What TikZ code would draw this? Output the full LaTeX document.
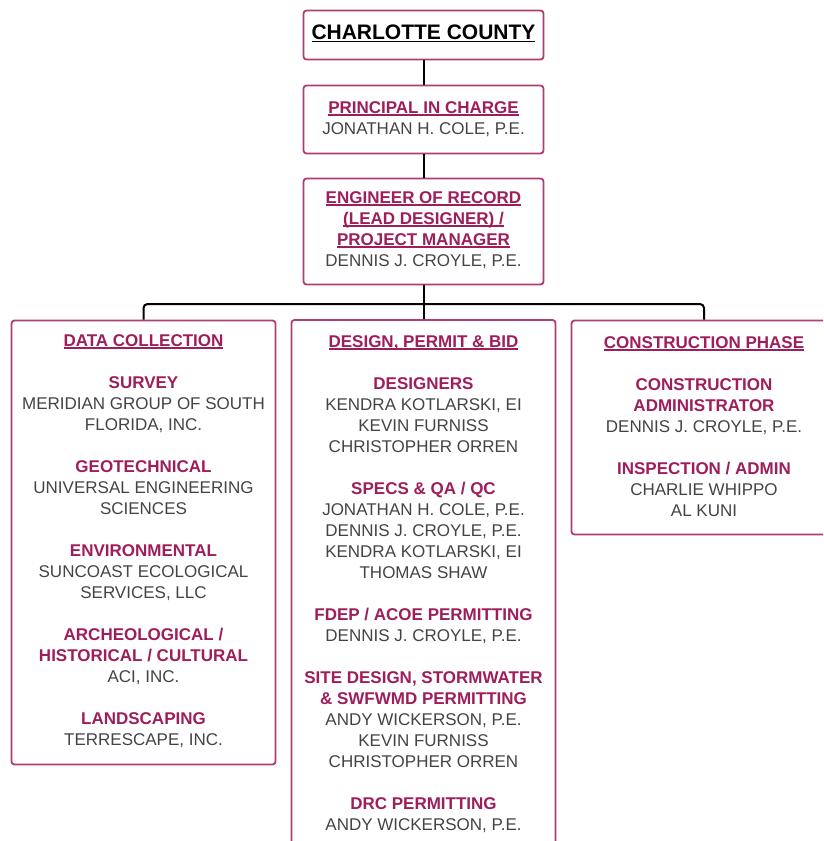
\documentclass[tikz,border=0pt]{standalone}
\usepackage{fontspec}
\setmainfont{Liberation Sans}
\definecolor{hdr}{RGB}{158,30,92}
\definecolor{bdr}{RGB}{172,62,118}
\definecolor{txt}{RGB}{68,68,68}
\newcommand\ulx[1]{\leavevmode\setbox0\hbox{#1}\rlap{\rule[-2.6pt]{\wd0}{1.3pt}}\box0}
\newcommand\hd[1]{{\bfseries\color{hdr}#1}}
\begin{document}
\begin{tikzpicture}[x=1pt,y=-1pt,
  box/.style={draw=bdr, line width=1.8pt, rounded corners=3pt, fill=white, inner sep=0pt},
  txtnode/.style={anchor=north, align=center, inner sep=0pt, font=\fontsize{17}{21}\selectfont, text=txt},
  conn/.style={line width=2pt, black, rounded corners=4pt}]
\clip (0,0) rectangle (823,841);
\fill[white] (0,0) rectangle (823,841);
% boxes
\node[box, minimum width=240pt, minimum height=49pt] (cc) at (423.5,35) {};
\node[box, minimum width=240pt, minimum height=68pt] (pic) at (423.5,119.5) {};
\node[box, minimum width=240pt, minimum height=106pt] (eor) at (423.5,231.5) {};
\node[box, minimum width=264pt, minimum height=444pt] (dc) at (143.5,542.5) {};
\node[box, minimum width=264pt, minimum height=540pt] (dpb) at (423.5,590) {};
\node[box, minimum width=265pt, minimum height=214pt] (cp) at (704,427.5) {};
% connectors
\coordinate (bus) at (423.5,304);
\draw[conn] (cc) -- (pic);
\draw[conn] (pic) -- (eor);
\draw[conn] (eor) -- (dpb);
\draw[conn] (dc.north) |- (bus) -| (cp.north);
% texts
\node[txtnode, font=\fontsize{21}{25}\selectfont, text=black] (cct) at (423.5,24.5) {\bfseries\ulx{CHARLOTTE COUNTY}};
\node[txtnode] (pict) at (423.5,101) {\hd{\ulx{PRINCIPAL IN CHARGE}}\\JONATHAN H. COLE, P.E.};
\node[txtnode] (eort) at (423.5,191) {\hd{\ulx{ENGINEER OF RECORD}}\\\hd{\ulx{(LEAD DESIGNER) /}}\\\hd{\ulx{PROJECT MANAGER}}\\DENNIS J. CROYLE, P.E.};
\node[txtnode] (dct) at (143.5,334) {\hd{\ulx{DATA COLLECTION}}\\[21pt]
\hd{SURVEY}\\MERIDIAN GROUP OF SOUTH\\FLORIDA, INC.\\[21pt]
\hd{GEOTECHNICAL}\\UNIVERSAL ENGINEERING\\SCIENCES\\[21pt]
\hd{ENVIRONMENTAL}\\SUNCOAST ECOLOGICAL\\SERVICES, LLC\\[21pt]
\hd{ARCHEOLOGICAL /}\\\hd{HISTORICAL / CULTURAL}\\ACI, INC.\\[21pt]
\hd{LANDSCAPING}\\TERRESCAPE, INC.};
\node[txtnode] (dpbt) at (423.5,335) {\hd{\ulx{DESIGN, PERMIT \& BID}}\\[21pt]
\hd{DESIGNERS}\\KENDRA KOTLARSKI, EI\\KEVIN FURNISS\\CHRISTOPHER ORREN\\[21pt]
\hd{SPECS \& QA / QC}\\JONATHAN H. COLE, P.E.\\DENNIS J. CROYLE, P.E.\\KENDRA KOTLARSKI, EI\\THOMAS SHAW\\[21pt]
\hd{FDEP / ACOE PERMITTING}\\DENNIS J. CROYLE, P.E.\\[21pt]
\hd{SITE DESIGN, STORMWATER}\\\hd{\& SWFWMD PERMITTING}\\ANDY WICKERSON, P.E.\\KEVIN FURNISS\\CHRISTOPHER ORREN\\[21pt]
\hd{DRC PERMITTING}\\ANDY WICKERSON, P.E.};
\node[txtnode] (cpt) at (704,336) {\hd{\ulx{CONSTRUCTION PHASE}}\\[21pt]
\hd{CONSTRUCTION}\\\hd{ADMINISTRATOR}\\DENNIS J. CROYLE, P.E.\\[21pt]
\hd{INSPECTION / ADMIN}\\CHARLIE WHIPPO\\AL KUNI};
\end{tikzpicture}
\end{document}
